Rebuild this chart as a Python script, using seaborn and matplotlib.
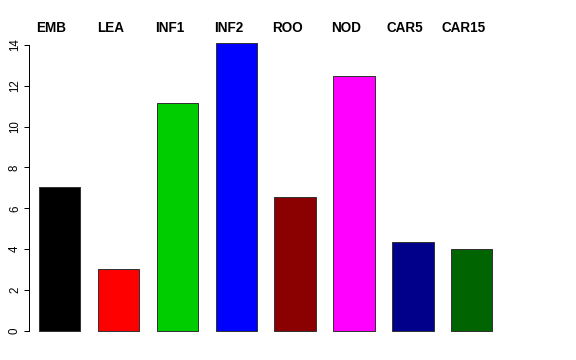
import matplotlib
matplotlib.use("Agg")
import matplotlib.pyplot as plt
import seaborn as sns
import pandas as pd

categories = ["EMB", "LEA", "INF1", "INF2", "ROO", "NOD", "CAR5", "CAR15"]
values = [7.05, 3.03, 11.16, 14.1, 6.56, 12.48, 4.36, 4.01]
colors = ["#000000", "#FF0000", "#00CD00", "#0000FF", "#8B0000", "#FF00FF", "#00008B", "#006400"]
yticks = [0, 2, 4, 6, 8, 10, 12, 14]

sns.set_style("white")
plt.rcParams["font.family"] = ["Liberation Sans", "DejaVu Sans"]
plt.rcParams["text.color"] = "black"
plt.rcParams["ytick.color"] = "black"

W, H = 576, 360
fig = plt.figure(figsize=(W / 72, H / 72), dpi=72)
left_px, right_px = 29, 520
top_px, bot_px = 31.4, 342.4
ax = fig.add_axes([left_px / W, 1 - bot_px / H, (right_px - left_px) / W, (bot_px - top_px) / H])

df = pd.DataFrame({"cat": categories, "val": values})
sns.barplot(data=df, x="cat", y="val", hue="cat", palette=colors, legend=False,
            width=0.7, edgecolor="#333333", linewidth=1, ax=ax, saturation=1)

ax.set_ylim(-0.56, 14.66)
ax.set_xlim(-0.518, (right_px - 59.5) / 58.9)
ax.set_xlabel("")
ax.set_ylabel("")
ax.set_xticks([])
ax.set_yticks(yticks)
ax.set_yticklabels([str(t) for t in yticks], rotation=90, va="center", fontsize=11.5, color="black")
ax.tick_params(axis="y", which="both", left=True, length=5, width=1, color="black", pad=3)
for s in ["top", "right", "bottom"]:
    ax.spines[s].set_visible(False)
ax.spines["left"].set_bounds(0, 14)
ax.spines["left"].set_color("black")
ax.spines["left"].set_linewidth(1)

for i, c in enumerate(categories):
    ax.text(i - 0.135, 14.83, c, ha="center", va="center", fontsize=13.5,
            fontweight="bold", color="black", clip_on=False)

fig.savefig("out.png", dpi=72)
